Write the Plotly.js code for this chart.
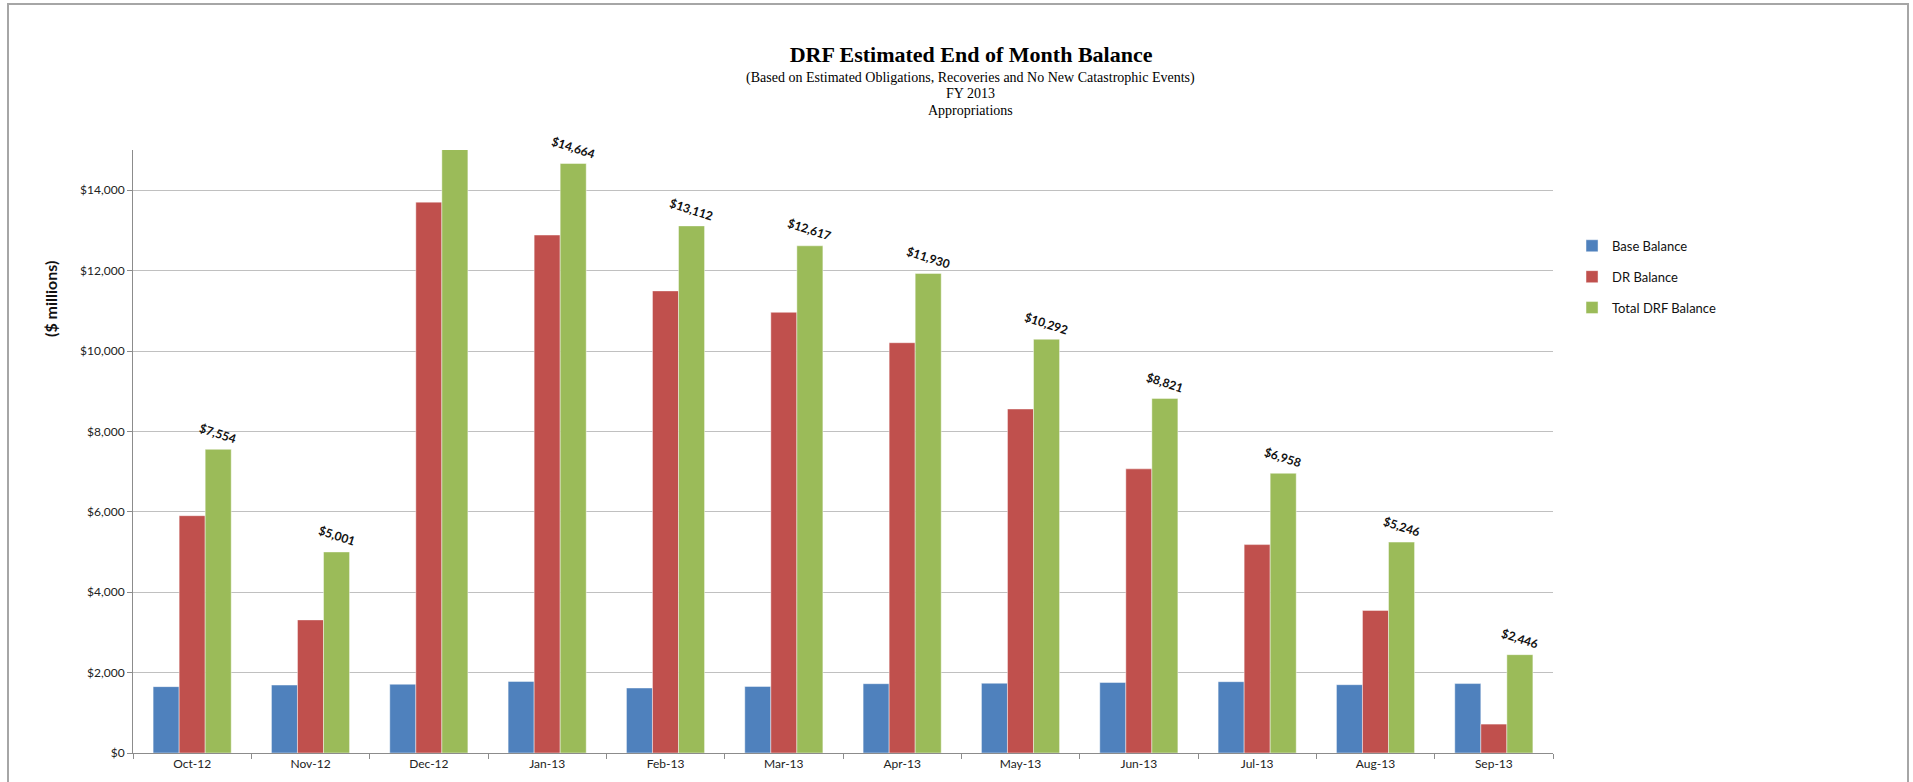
<!DOCTYPE html>
<html>
<head>
<meta charset="utf-8">
<script src="https://cdn.plot.ly/plotly-3.0.1.min.js"></script>
<style>
  html, body { margin: 0; padding: 0; background: #ffffff; overflow: hidden; }
  #chart { position: absolute; left: 0; top: 0; width: 1913px; height: 782px; }
  #frame { position: absolute; left: 7px; top: 3px; width: 1902px; height: 820px;
           border: 2px solid #a6a6a6; pointer-events: none; box-sizing: border-box; }
</style>
</head>
<body>
<div id="chart"></div>
<div id="frame"></div>
<script>
// ---- data ----
const months = ["Oct-12","Nov-12","Dec-12","Jan-13","Feb-13","Mar-13","Apr-13","May-13","Jun-13","Jul-13","Aug-13","Sep-13"];
const baseBalance = [1651, 1690, 1710, 1780, 1617, 1655, 1724, 1735, 1753, 1774, 1699, 1727];
const drBalance   = [5903, 3311, 13703, 12884, 11495, 10962, 10206, 8557, 7068, 5184, 3547, 719];
const totalBalance = [7554, 5001, 15413, 14664, 13112, 12617, 11930, 10292, 8821, 6958, 5246, 2446];
const seriesNames = ["Base Balance", "DR Balance", "Total DRF Balance"];
const seriesColors = ["#4F81BD", "#C0504D", "#9BBB59"];
const yMax = 15000;

const bodyFont = "Lato, 'Open Sans', sans-serif";
const serif = "'Liberation Serif', 'DejaVu Serif', serif";

const values = [baseBalance, drBalance, totalBalance];
const traces = values.map((v, k) => ({
  type: "bar",
  name: seriesNames[k],
  x: months,
  y: v,
  legendgroup: "g" + k,
  marker: { color: seriesColors[k], line: { color: "rgba(255,255,255,0.55)", width: 0.8 } },
  cliponaxis: true,
  hoverinfo: "x+y+name"
}));

const bargap = 0.34;
const nSeries = values.length;
const barW = (1 - bargap) / nSeries;
const greenOffset = barW; // center offset of third bar from category center

const fmt = v => "$" + v.toLocaleString("en-US");

const annotations = [];
totalBalance.forEach((v, i) => {
  if (v <= yMax) {
    annotations.push({
      x: i + greenOffset, y: v, xref: "x", yref: "y",
      text: "<b>" + fmt(v) + "</b>",
      showarrow: false, textangle: 18, yanchor: "middle", xanchor: "center",
      yshift: 16,
      font: { family: bodyFont, size: 12, color: "#111" }
    });
  }
});

// subtitle lines and y-axis title
annotations.push(
  { xref: "paper", yref: "paper", x: 0.590, y: 1.1194, showarrow: false, xanchor: "center", yanchor: "middle",
    text: "(Based on Estimated Obligations, Recoveries and No New Catastrophic Events)",
    font: { family: serif, size: 14, color: "#000" } },
  { xref: "paper", yref: "paper", x: 0.590, y: 1.0929, showarrow: false, xanchor: "center", yanchor: "middle",
    text: "FY 2013", font: { family: serif, size: 14, color: "#000" } },
  { xref: "paper", yref: "paper", x: 0.590, y: 1.0663, showarrow: false, xanchor: "center", yanchor: "middle",
    text: "Appropriations", font: { family: serif, size: 14, color: "#000" } },
  { xref: "paper", yref: "paper", x: -0.0577, y: 0.753, showarrow: false, xanchor: "center", yanchor: "middle",
    textangle: -90, text: "<b>($ millions)</b>", font: { family: bodyFont, size: 16, color: "#111" } }
);

const layout = {
  width: 1913, height: 782,
  margin: { l: 133, r: 360, t: 150, b: 29 },
  paper_bgcolor: "#ffffff", plot_bgcolor: "#ffffff",
  barmode: "group", bargap: bargap, bargroupgap: 0,
  title: {
    text: "<b>DRF Estimated End of Month Balance</b>",
    xref: "container", yref: "container", x: 0.5076, y: 0.931, xanchor: "center", yanchor: "middle",
    font: { family: serif, size: 22, color: "#000" }
  },
  xaxis: {
    type: "category",
    showline: true, linecolor: "#8c8c8c", linewidth: 1,
    ticks: "outside", tickson: "boundaries", ticklen: 5, tickcolor: "#8c8c8c",
    tickfont: { family: bodyFont, size: 12, color: "#222" },
    showgrid: false, zeroline: false
  },
  yaxis: {
    range: [0, yMax], tick0: 0, dtick: 2000,
    tickformat: "$,.0f",
    showline: true, linecolor: "#8c8c8c", linewidth: 1,
    ticks: "outside", ticklen: 5, tickcolor: "#8c8c8c",
    tickfont: { family: bodyFont, size: 12, color: "#222" },
    showgrid: true, gridcolor: "#c0c0c0", gridwidth: 1,
    zeroline: false
  },
  legend: {
    x: 1.0134, y: 0.866, xanchor: "left", yanchor: "top",
    font: { family: bodyFont, size: 13, color: "#111" },
    tracegroupgap: 11, bgcolor: "rgba(0,0,0,0)"
  },
  annotations: annotations,
  showlegend: true
};

Plotly.newPlot("chart", traces, layout, { displayModeBar: false, staticPlot: true });
</script>
</body>
</html>
